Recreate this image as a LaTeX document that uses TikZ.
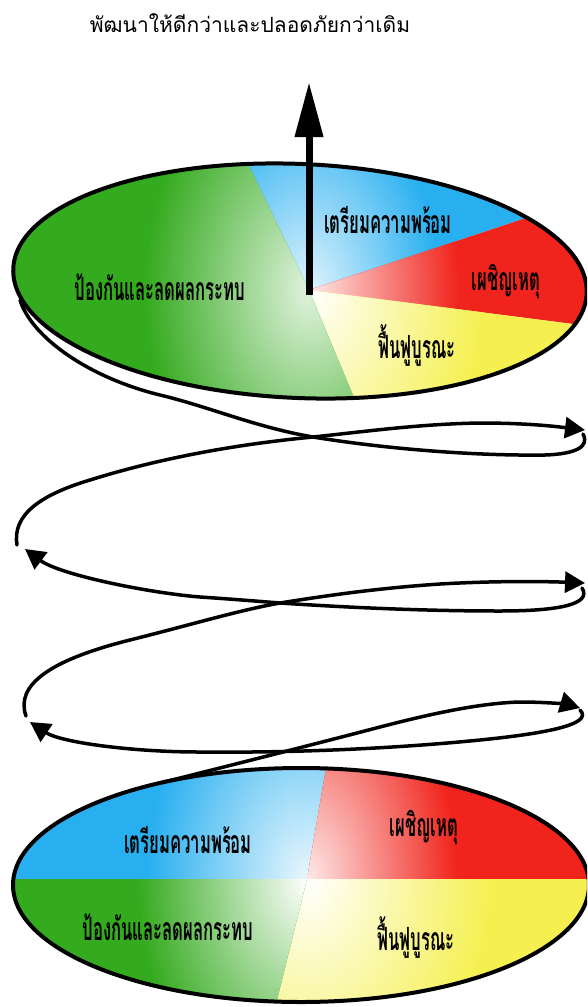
\documentclass[tikz,border=0pt]{standalone}
\usepackage{fontspec}
\newfontfamily\thaifont[Script=Thai]{Loma}
\usetikzlibrary{arrows.meta}
\definecolor{gr}{RGB}{52,170,30}
\definecolor{bl}{RGB}{40,175,240}
\definecolor{rd}{RGB}{240,36,28}
\definecolor{yl}{RGB}{245,240,80}
\tikzset{
  spir/.style={line width=3.5pt, line cap=round},
  tipr/.style={-{Triangle[length=20pt 0 0,width=21pt 0 0]}},
  tipl/.style={{Triangle[length=20pt 0 0,width=21pt 0 0]}-},
  lbl/.style={font=\thaifont\bfseries\fontsize{32}{32}\selectfont, xscale=0.52, inner sep=0pt},
  rim/.style={line width=4pt, draw=black},
  ttl/.style={font=\thaifont\fontsize{21}{21}\selectfont, inner sep=0pt}
}
\begin{document}
\begin{tikzpicture}[x=1pt,y=-1pt]
\useasboundingbox (0,0) rectangle (587,1007);
\clip (0,0) rectangle (587,1007);
\fill[white] (0,0) rectangle (587,1007);

% title
\node[ttl] (title) at (250,23) {พัฒนาให้ดีกว่าและปลอดภัยกว่าเดิม};

% key points of the spiral
\coordinate (s1) at (20,300);
\coordinate (c1) at (313,437);
\coordinate (e1) at (585,430);
\coordinate (g1) at (17,545);
\coordinate (a2) at (25,549);
\coordinate (c2) at (280,603);
\coordinate (e2) at (585,583);
\coordinate (g2) at (26,716);
\coordinate (a3) at (30,722);
\coordinate (c3) at (260,755);
\coordinate (e3) at (580,708);
\coordinate (s6) at (140,788);

% spiral pieces
\draw[spir] (s1) .. controls (32,338) and (90,378) .. (160,395)
  .. controls (210,407) and (255,427) .. (c1)
  .. controls (380,448) and (470,456) .. (545,455)
  .. controls (575,454) and (590,447) .. (583,434);
\draw[spir,tipr] (g1) .. controls (12,515) and (40,495) .. (90,480)
  .. controls (170,455) and (250,443) .. (c1)
  .. controls (370,431) and (420,424) .. (480,423)
  .. controls (530,423) and (560,427) .. (e1);
\draw[spir,tipl] (a2) .. controls (60,575) and (150,593) .. (200,597)
  .. controls (230,599) and (255,601) .. (c2)
  .. controls (340,607) and (420,611) .. (500,611)
  .. controls (560,611) and (592,604) .. (582,588);
\draw[spir,tipr] (g2) .. controls (15,685) and (50,660) .. (130,640)
  .. controls (190,625) and (240,610) .. (c2)
  .. controls (330,595) and (380,588) .. (440,584)
  .. controls (510,580) and (560,582) .. (e2);
\draw[spir,tipl] (a3) .. controls (60,742) and (130,752) .. (200,752)
  .. controls (300,753) and (400,748) .. (480,740)
  .. controls (540,734) and (595,725) .. (580,710);
\draw[spir,tipr] (s6) .. controls (200,773) and (300,748) .. (380,727)
  .. controls (430,714) and (480,703) .. (520,702)
  .. controls (550,702) and (570,705) .. (e3);

% ---------- top disc ----------
\coordinate (P) at (309,290);
\begin{scope}
  \clip[rotate around={-2.5:(300,281)}] (300,281) ellipse [x radius=287, y radius=117];
  \begin{scope}
    \clip (P) -- (193,50) -- (761,50) -- (761,140) -- cycle;
    \fill[bl] (0,0) rectangle (700,500);
    \shade[inner color=bl!15!white, outer color=bl] (P) ellipse [x radius=130, y radius=200];
  \end{scope}
  \begin{scope}
    \clip (P) -- (761,140) -- (821,356) -- cycle;
    \fill[rd] (0,0) rectangle (700,500);
    \shade[inner color=rd!10!white, outer color=rd] (P) ellipse [x radius=150, y radius=220];
  \end{scope}
  \begin{scope}
    \clip (P) -- (821,356) -- (821,496) -- (395,496) -- cycle;
    \fill[yl] (0,0) rectangle (700,500);
    \shade[inner color=white, outer color=yl] (P) ellipse [x radius=175, y radius=240];
  \end{scope}
  \begin{scope}
    \clip (P) -- (395,496) -- (-50,496) -- (-50,50) -- (193,50) -- cycle;
    \fill[gr] (0,0) rectangle (700,500);
    \shade[inner color=gr!15!white, outer color=gr] (P) ellipse [x radius=165, y radius=240];
  \end{scope}
\end{scope}
\draw[rim, rotate around={-2.5:(300,281)}] (300,281) ellipse [x radius=287, y radius=117];

% central arrow
\coordinate (topc) at (309,295);
\coordinate (tip) at (309,82);
\draw[line width=7pt, -{Triangle[length=55pt 0 0,width=27pt 0 0]}] (topc) -- (tip);

\node[lbl] (t1) at (388,220) {เตรียมความพร้อม};
\node[lbl] (t2) at (506,282) {เผชิญเหตุ};
\node[lbl] (t3) at (160,287) {ป้องกันและลดผลกระทบ};
\node[lbl] (t4) at (417,345) {ฟื้นฟูบูรณะ};

% ---------- bottom disc ----------
\coordinate (Q) at (307,879);
\begin{scope}
  \clip (301,885) ellipse [x radius=288, y radius=117];
  \begin{scope}
    \clip (Q) -- (345,657) -- (-50,657) -- (-50,879) -- cycle;
    \fill[bl] (0,700) rectangle (700,1100);
    \shade[inner color=bl!10!white, outer color=bl] (Q) ellipse [x radius=160, y radius=240];
  \end{scope}
  \begin{scope}
    \clip (Q) -- (650,879) -- (650,657) -- (345,657) -- cycle;
    \fill[rd] (0,700) rectangle (700,1100);
    \shade[inner color=rd!10!white, outer color=rd] (Q) ellipse [x radius=150, y radius=240];
  \end{scope}
  \begin{scope}
    \clip (Q) -- (650,879) -- (650,1121) -- (247,1121) -- cycle;
    \fill[yl] (0,700) rectangle (700,1100);
    \shade[inner color=white, outer color=yl] (Q) ellipse [x radius=185, y radius=240];
  \end{scope}
  \begin{scope}
    \clip (Q) -- (247,1121) -- (-50,1121) -- (-50,879) -- cycle;
    \fill[gr] (0,700) rectangle (700,1100);
    \shade[inner color=white, outer color=gr] (Q) ellipse [x radius=170, y radius=240];
  \end{scope}
\end{scope}
\draw[rim] (301,885) ellipse [x radius=288, y radius=117];

\node[lbl] (u1) at (188,840) {เตรียมความพร้อม};
\node[lbl] (u2) at (424,828) {เผชิญเหตุ};
\node[lbl] (u3) at (168,927) {ป้องกันและลดผลกระทบ};
\node[lbl] (u4) at (416,937) {ฟื้นฟูบูรณะ};
\end{tikzpicture}
\end{document}
